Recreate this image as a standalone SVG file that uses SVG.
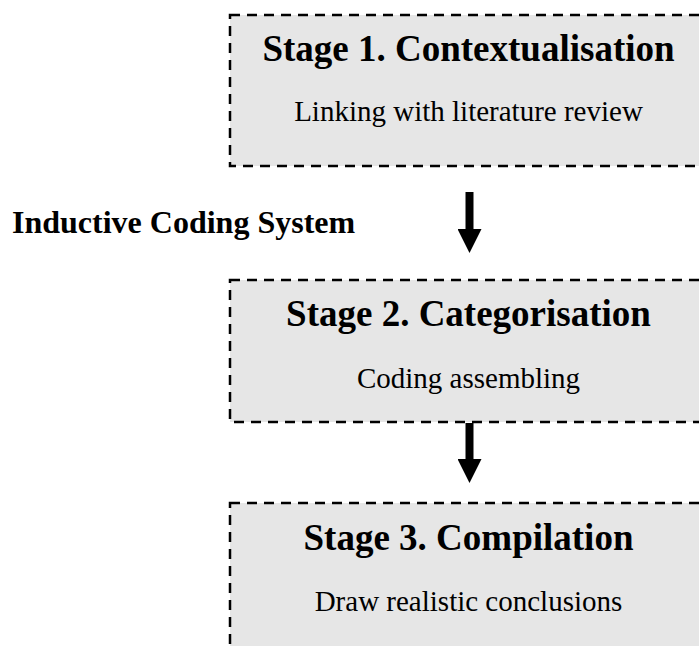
<svg xmlns="http://www.w3.org/2000/svg" width="699" height="646" viewBox="0 0 699 646">
  <style>
    .box { fill: #e6e6e6; stroke: #000; stroke-width: 2.5; stroke-dasharray: 10 7; }
    .title { font-family: "Liberation Serif", "Times New Roman", serif; font-weight: bold; font-size: 37px; fill: #000; text-anchor: middle; }
    .sub { font-family: "Liberation Serif", "Times New Roman", serif; font-size: 29px; fill: #000; text-anchor: middle; }
    .side { font-family: "Liberation Serif", "Times New Roman", serif; font-weight: bold; font-size: 32px; fill: #000; }
    .link { stroke: #000; stroke-width: 8; fill: none; marker-end: url(#head); }
  </style>
  <defs>
    <marker id="head" markerUnits="userSpaceOnUse" markerWidth="24" markerHeight="24" refX="0" refY="12" orient="auto">
      <path d="M0,0 L24,12 L0,24 z" fill="#000"/>
    </marker>
  </defs>

  <g id="stage1">
    <rect class="box" x="230" y="15" width="480" height="151"/>
    <text class="title" x="468.5" y="61">Stage 1. Contextualisation</text>
    <text class="sub" x="468.5" y="121">Linking with literature review</text>
  </g>

  <g id="stage2">
    <rect class="box" x="230" y="280" width="480" height="142"/>
    <text class="title" x="468.5" y="326">Stage 2. Categorisation</text>
    <text class="sub" x="468.5" y="388">Coding assembling</text>
  </g>

  <g id="stage3">
    <rect class="box" x="230" y="503" width="480" height="160"/>
    <text class="title" x="468.5" y="550">Stage 3. Compilation</text>
    <text class="sub" x="468.5" y="611">Draw realistic conclusions</text>
  </g>

  <g id="label-coding">
    <text class="side" x="12" y="233">Inductive Coding System</text>
  </g>

  <g id="connectors">
    <line class="link" x1="469.5" y1="192" x2="469.5" y2="229"/>
    <line class="link" x1="469.5" y1="423" x2="469.5" y2="459"/>
  </g>
</svg>
